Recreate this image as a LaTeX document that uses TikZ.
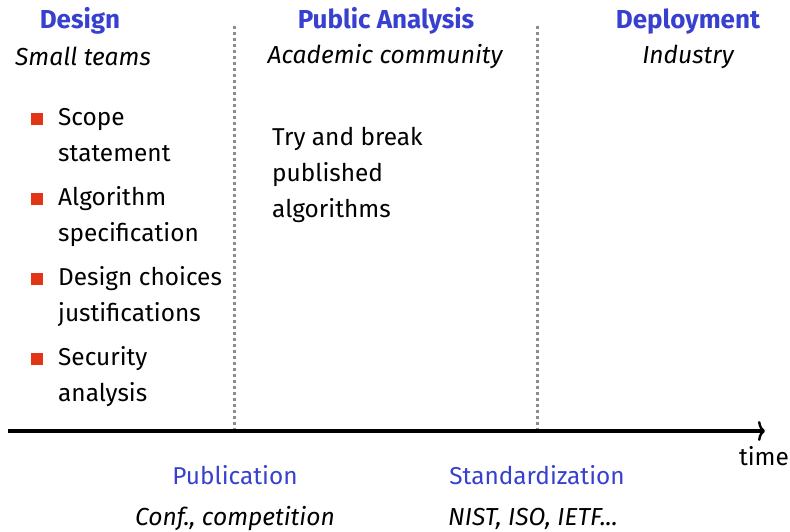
\documentclass[tikz,border=0pt]{standalone}
\usepackage{fontspec}
\setmainfont{Fira Sans}
\usetikzlibrary{arrows.meta}
\definecolor{hblue}{RGB}{56,64,208}
\definecolor{bred}{RGB}{228,52,24}
\definecolor{dotgray}{RGB}{140,140,140}
\begin{document}
\begin{tikzpicture}[x=1pt,y=-1pt,
  txt/.style={inner sep=0pt,font=\fontsize{24.4}{28}\selectfont},
  head/.style={txt,text=hblue,font=\fontsize{26}{30}\selectfont\bfseries,anchor=base},
  sub/.style={txt,font=\fontsize{24.6}{28}\selectfont\itshape,anchor=base},
  line/.style={txt,anchor=base west},
  mile/.style={txt,text=hblue,anchor=base},
  bul/.style={fill=bred,inner sep=0pt,minimum size=12pt,draw=none},
  sep/.style={draw=dotgray,line width=3pt,dash pattern=on 3pt off 3pt}]
\useasboundingbox (0,0) rectangle (790,531);
% headings
\node[head] (hdes) at (80,28) {Design};
\node[sub] (sdes) at (83,65) {Small teams};
\node[head] (hpub) at (386,28) {Public Analysis};
\node[sub] (spub) at (385,63) {Academic community};
\node[head] (hdep) at (688,28) {Deployment};
\node[sub] (sdep) at (688,63) {Industry};
% separators
\coordinate (s1t) at (234,26);
\coordinate (s1b) at (234,430);
\coordinate (s2t) at (537,26);
\coordinate (s2b) at (537,430);
\draw[sep] (s1t) -- (s1b);
\draw[sep] (s2t) -- (s2b);
% bullets
\node[bul] (b1) at (37,119) {};
\node[bul] (b2) at (37,199) {};
\node[bul] (b3) at (37,279) {};
\node[bul] (b4) at (37,359) {};
\node[line] (l1) at (58,125) {Scope};
\node[line] (l2) at (58,161) {statement};
\node[line] (l3) at (58,205) {Algorithm};
\node[line] (l4) at (58,241) {specification};
\node[line] (l5) at (58,285) {Design choices};
\node[line] (l6) at (58,321) {justifications};
\node[line] (l7) at (58,365) {Security};
\node[line] (l8) at (58,401) {analysis};
% public analysis text
\node[line] (t1) at (272,145) {Try and break};
\node[line] (t2) at (272,181) {published};
\node[line] (t3) at (272,217) {algorithms};
% axis
\coordinate (ax0) at (8,431);
\coordinate (ax1) at (765,431);
\draw[line width=3.2pt,-{To[length=7pt,width=20pt,line width=2.4pt]}] (ax0) -- (ax1);
\node[txt,anchor=base] (time) at (764,465) {time};
% milestones
\node[mile] (m1) at (235,484) {Publication};
\node[sub] (m1s) at (235,525) {Conf., competition};
\node[mile] (m2) at (537,484) {Standardization};
\node[sub] (m2s) at (533,525) {NIST, ISO, IETF...};
\end{tikzpicture}
\end{document}
